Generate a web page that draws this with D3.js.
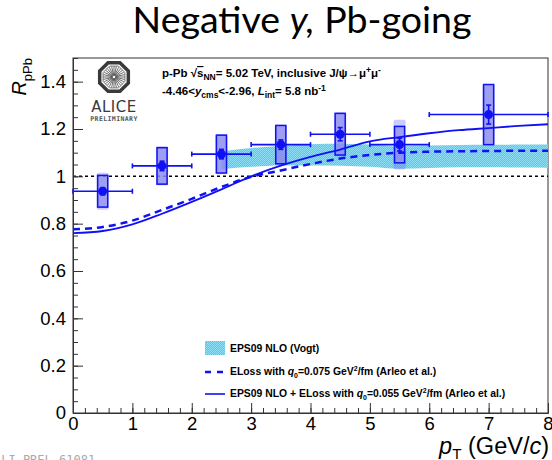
<!DOCTYPE html>
<html><head><meta charset="utf-8">
<script src="https://cdn.jsdelivr.net/npm/d3@7"></script>
<style>body{margin:0;background:#fff} svg{display:block}</style>
</head><body>
<script>
// J/psi R_pPb vs pT, backward rapidity
const ptCenter = [0.5, 1.5, 2.5, 3.5, 4.5, 5.5, 7];
const ptLow    = [0, 1, 2, 3, 4, 5, 6];
const ptHigh   = [1, 2, 3, 4, 5, 6, 8];
const rpPb       = [0.937, 1.044, 1.094, 1.134, 1.178, 1.134, 1.261];
const statErr    = [0.015, 0.02, 0.02, 0.02, 0.028, 0.027, 0.04];
const systUncorr = [0.067, 0.077, 0.08, 0.081, 0.088, 0.077, 0.127];
const systTotal  = [0.078, 0.083, 0.085, 0.084, 0.093, 0.105, 0.128];

// model curves
const modelPt    = [0, 0.5, 1, 1.5, 2, 2.5, 3, 3.5, 4, 4.5, 5, 5.5, 6, 6.5, 7, 7.5, 8];
const elossOnly  = [0.776, 0.786, 0.813, 0.858, 0.905, 0.955, 0.998, 1.025, 1.052, 1.075, 1.09, 1.1, 1.104, 1.106, 1.107, 1.108, 1.108];
const eps09Eloss = [0.760, 0.769, 0.797, 0.842, 0.892, 0.945, 1.0, 1.045, 1.082, 1.113, 1.148, 1.166, 1.182, 1.195, 1.204, 1.213, 1.22];

// EPS09 NLO band
const eps09Pt   = [2.5, 3, 3.5, 4, 4.5, 5, 5.5, 6, 6.5, 7, 7.5, 8];
const eps09Low  = [1.03, 1.04, 1.046, 1.046, 1.045, 1.04, 1.032, 1.035, 1.038, 1.038, 1.037, 1.036];
const eps09High = [1.105, 1.12, 1.128, 1.136, 1.138, 1.135, 1.127, 1.13, 1.132, 1.133, 1.134, 1.135];

const xTicks = [0, 1, 2, 3, 4, 5, 6, 7, 8];
const yTicks = [0, 0.2, 0.4, 0.6, 0.8, 1, 1.2, 1.4];
const yTickLabels = ["0", "0.2", "0.4", "0.6", "0.8", "1", "1.2", "1.4"];

const W = 552, H = 460;
const blue = "#1010f5";
const sans = "'Liberation Sans', Arial, Helvetica, sans-serif";

const svg = d3.select("body").append("svg").attr("width", W).attr("height", H);

const defs = svg.append("defs");
const pat = defs.append("pattern").attr("id", "hatch").attr("patternUnits", "userSpaceOnUse")
  .attr("width", 2).attr("height", 2);
pat.append("rect").attr("width", 2).attr("height", 2).attr("fill", "#4ccbf0");
pat.append("rect").attr("width", 1).attr("height", 1).attr("fill", "#8fe0f7");
pat.append("rect").attr("x", 1).attr("y", 1).attr("width", 1).attr("height", 1).attr("fill", "#8fe0f7");

const x = d3.scaleLinear().domain([0, 8]).range([73, 548]);
const y = d3.scaleLinear().domain([0, 1.5]).range([413, 58]);

// fit a text element to a target width by scaling its font size
function fitWidth(sel, base, target) {
  const len = sel.node().getComputedTextLength();
  sel.attr("font-size", base * target / len);
}

// title
const title = svg.append("text").attr("x", 302).attr("y", 33).attr("text-anchor", "middle")
  .attr("font-family", "Lato, 'Open Sans', sans-serif").attr("font-size", 32).attr("fill", "#000");
title.append("tspan").text("Negative ");
title.append("tspan").attr("font-style", "italic").text("y,");
title.append("tspan").text(" Pb-going");
fitWidth(title, 32, 339);

// frame
svg.append("rect").attr("x", x(0)).attr("y", y(1.5)).attr("width", x(8) - x(0)).attr("height", y(0) - y(1.5))
  .attr("fill", "none").attr("stroke", "#333").attr("stroke-width", 1);

// unity line
svg.append("line").attr("x1", x(0)).attr("x2", x(8)).attr("y1", y(1)).attr("y2", y(1))
  .attr("stroke", "#000").attr("stroke-width", 1.5).attr("stroke-dasharray", "3,3");

// EPS09 band
const bandData = eps09Pt.map((p, i) => ({p, lo: eps09Low[i], hi: eps09High[i]}));
svg.append("path").datum(bandData)
  .attr("d", d3.area().x(d => x(d.p)).y0(d => y(d.lo)).y1(d => y(d.hi)).curve(d3.curveMonotoneX))
  .attr("fill", "url(#hatch)");

// data
const pts = ptCenter.map((p, i) => ({p, lo: ptLow[i], hi: ptHigh[i], v: rpPb[i], st: statErr[i], su: systUncorr[i], sT: systTotal[i]}));
const boxHalf = 0.085;

svg.append("g").selectAll("rect").data(pts).join("rect")
  .attr("x", d => x(d.p - boxHalf) - 1).attr("width", d => x(d.p + boxHalf) - x(d.p - boxHalf) + 2)
  .attr("y", d => y(d.v + d.sT)).attr("height", d => y(d.v - d.sT) - y(d.v + d.sT))
  .attr("rx", 2).attr("fill", "#6b6bf5").attr("fill-opacity", 0.35);

svg.append("g").selectAll("rect").data(pts).join("rect")
  .attr("x", d => x(d.p - boxHalf)).attr("width", d => x(d.p + boxHalf) - x(d.p - boxHalf))
  .attr("y", d => y(d.v + d.su)).attr("height", d => y(d.v - d.su) - y(d.v + d.su))
  .attr("fill", "#8f8ff0").attr("fill-opacity", 0.75).attr("stroke", blue).attr("stroke-width", 1.5);

// model curves
const line = d3.line().x((d, i) => x(modelPt[i])).y(d => y(d)).curve(d3.curveMonotoneX);
svg.append("path").datum(elossOnly).attr("d", line).attr("fill", "none")
  .attr("stroke", blue).attr("stroke-width", 2.5).attr("stroke-dasharray", "7,5");
svg.append("path").datum(eps09Eloss).attr("d", line).attr("fill", "none")
  .attr("stroke", blue).attr("stroke-width", 1.8);

// error bars
const eb = svg.append("g").attr("stroke", blue).attr("stroke-width", 1.6);
eb.selectAll(".h").data(pts).join("line")
  .attr("x1", d => x(d.lo)).attr("x2", d => x(d.hi)).attr("y1", d => y(d.v)).attr("y2", d => y(d.v));
eb.selectAll(".cl").data(pts).join("line")
  .attr("x1", d => x(d.lo)).attr("x2", d => x(d.lo)).attr("y1", d => y(d.v) - 2.5).attr("y2", d => y(d.v) + 2.5);
eb.selectAll(".cr").data(pts).join("line")
  .attr("x1", d => x(d.hi)).attr("x2", d => x(d.hi)).attr("y1", d => y(d.v) - 2.5).attr("y2", d => y(d.v) + 2.5);
eb.selectAll(".v").data(pts).join("line")
  .attr("x1", d => x(d.p)).attr("x2", d => x(d.p)).attr("y1", d => y(d.v + d.st)).attr("y2", d => y(d.v - d.st));
eb.selectAll(".ct").data(pts).join("line")
  .attr("x1", d => x(d.p) - 2.5).attr("x2", d => x(d.p) + 2.5).attr("y1", d => y(d.v + d.st)).attr("y2", d => y(d.v + d.st));
eb.selectAll(".cb").data(pts).join("line")
  .attr("x1", d => x(d.p) - 2.5).attr("x2", d => x(d.p) + 2.5).attr("y1", d => y(d.v - d.st)).attr("y2", d => y(d.v - d.st));
svg.append("g").selectAll("circle").data(pts).join("circle")
  .attr("cx", d => x(d.p)).attr("cy", d => y(d.v)).attr("r", 4.5).attr("fill", blue);

// axes
const xMinor = d3.range(0, 8.001, 0.2).map(v => +v.toFixed(2));
const yMinor = d3.range(0, 1.501, 0.05).map(v => +v.toFixed(2));
const gx = svg.append("g").attr("transform", `translate(0,${y(0)})`)
  .call(d3.axisBottom(x).tickValues(xTicks).tickSizeInner(-10).tickSizeOuter(0).tickPadding(4).tickFormat(d3.format("d")));
const gxm = svg.append("g").attr("transform", `translate(0,${y(0)})`)
  .call(d3.axisBottom(x).tickValues(xMinor).tickSizeInner(-5).tickSizeOuter(0).tickFormat(""));
const gy = svg.append("g").attr("transform", `translate(${x(0)},0)`)
  .call(d3.axisLeft(y).tickValues(yTicks).tickSizeInner(-10).tickSizeOuter(0).tickPadding(7)
    .tickFormat((d, i) => yTickLabels[i]));
const gym = svg.append("g").attr("transform", `translate(${x(0)},0)`)
  .call(d3.axisLeft(y).tickValues(yMinor).tickSizeInner(-5).tickSizeOuter(0).tickFormat(""));
[gx, gxm, gy, gym].forEach(g => {
  g.select(".domain").attr("stroke", "#333");
  g.selectAll(".tick line").attr("stroke", "#333");
  g.selectAll("text").attr("font-family", sans).attr("font-size", 18.5).attr("fill", "#000");
});

// axis titles
const yt = svg.append("text").attr("transform", "translate(26,58) rotate(-90)").attr("text-anchor", "end")
  .attr("font-family", sans).attr("fill", "#000");
yt.append("tspan").attr("font-style", "italic").attr("font-size", 20).text("R");
yt.append("tspan").attr("font-size", 13).attr("dy", 6).text("pPb");

const xt = svg.append("text").attr("x", 549).attr("y", 454).attr("text-anchor", "end")
  .attr("font-family", sans).attr("font-size", 20).attr("fill", "#000");
xt.append("tspan").attr("font-style", "italic").text("p");
xt.append("tspan").attr("font-size", "0.65em").attr("dy", 5).text("T");
xt.append("tspan").attr("dy", -5).text(" (GeV/");
xt.append("tspan").attr("font-style", "italic").text("c");
xt.append("tspan").text(")");
fitWidth(xt, 20, 110);

// ALICE logo
const logo = svg.append("g").attr("transform", "translate(114,77)");
const oct = r => d3.range(8).map(k => {
  const a = Math.PI / 8 + k * Math.PI / 4;
  return [r * Math.cos(a), r * Math.sin(a)];
});
logo.append("path").attr("d", "M" + oct(15.5).join("L") + "Z").attr("fill", "none").attr("stroke", "#3a3a3a").attr("stroke-width", 3.5);
logo.append("path").attr("d", "M" + oct(11.8).join("L") + "Z").attr("fill", "none").attr("stroke", "#666").attr("stroke-width", 0.9);
d3.range(28).forEach(k => {
  const a = k * 2 * Math.PI / 28;
  logo.append("line").attr("x1", 1.5 * Math.cos(a)).attr("y1", 1.5 * Math.sin(a))
    .attr("x2", 10.8 * Math.cos(a)).attr("y2", 10.8 * Math.sin(a)).attr("stroke", "#444").attr("stroke-width", 0.8);
});
svg.append("text").attr("x", 114).attr("y", 112).attr("text-anchor", "middle").attr("font-family", "'DejaVu Sans', sans-serif")
  .attr("font-size", 15).attr("fill", "#3a3a3a").attr("letter-spacing", 0.5).text("ALICE");
svg.append("text").attr("x", 114).attr("y", 120.5).attr("text-anchor", "middle").attr("font-family", "'DejaVu Sans Mono', monospace")
  .attr("font-weight", "bold").attr("font-size", 6.5).attr("fill", "#555").attr("letter-spacing", 0.4).text("PRELIMINARY");

// collision info
const info1 = svg.append("text").attr("x", 162).attr("y", 77).attr("font-family", sans).attr("font-weight", "bold")
  .attr("font-size", 11.5).attr("fill", "#000");
info1.append("tspan").text("p-Pb  \u221A");
info1.append("tspan").attr("text-decoration", "overline").text("s");
info1.append("tspan").attr("font-size", 8.5).attr("dy", 3).text("NN");
info1.append("tspan").attr("dy", -3).text("= 5.02 TeV, inclusive J/\u03C8\u2192\u03BC");
info1.append("tspan").attr("font-size", 8.5).attr("dy", -4).text("+");
info1.append("tspan").attr("dy", 4).text("\u03BC");
info1.append("tspan").attr("font-size", 8.5).attr("dy", -4).text("-");

const info2 = svg.append("text").attr("x", 162).attr("y", 95).attr("font-family", sans).attr("font-weight", "bold")
  .attr("font-size", 11.5).attr("fill", "#000");
info2.append("tspan").text("-4.46<");
info2.append("tspan").attr("font-style", "italic").text("y");
info2.append("tspan").attr("font-size", 8.5).attr("dy", 3).text("cms");
info2.append("tspan").attr("dy", -3).text("<-2.96,  ");
info2.append("tspan").attr("font-style", "italic").text("L");
info2.append("tspan").attr("font-size", 8.5).attr("dy", 3).text("int");
info2.append("tspan").attr("dy", -3).text("= 5.8 nb");
info2.append("tspan").attr("font-size", 8.5).attr("dy", -4).text("-1");

// legend
const lg = svg.append("g").attr("font-family", sans).attr("font-weight", "bold").attr("font-size", 10.4).attr("fill", "#000");
lg.append("rect").attr("x", 205).attr("y", 341).attr("width", 20).attr("height", 14).attr("fill", "url(#hatch)");
lg.append("text").attr("x", 230).attr("y", 352).text("EPS09 NLO (Vogt)");
lg.append("line").attr("x1", 205).attr("x2", 225).attr("y1", 372).attr("y2", 372)
  .attr("stroke", blue).attr("stroke-width", 2.5).attr("stroke-dasharray", "6,6");
const l2 = lg.append("text").attr("x", 230).attr("y", 375);
l2.append("tspan").text("ELoss with  ");
l2.append("tspan").attr("font-style", "italic").text("q");
l2.append("tspan").attr("font-size", 7).attr("dy", 3).text("0");
l2.append("tspan").attr("dy", -3).text("=0.075 GeV");
l2.append("tspan").attr("font-size", 7).attr("dy", -4).text("2");
l2.append("tspan").attr("dy", 4).text("/fm (Arleo et al.)");
lg.append("line").attr("x1", 205).attr("x2", 225).attr("y1", 394).attr("y2", 394)
  .attr("stroke", blue).attr("stroke-width", 1.6);
const l3 = lg.append("text").attr("x", 230).attr("y", 397);
l3.append("tspan").text("EPS09 NLO + ELoss with  ");
l3.append("tspan").attr("font-style", "italic").text("q");
l3.append("tspan").attr("font-size", 7).attr("dy", 3).text("0");
l3.append("tspan").attr("dy", -3).text("=0.055 GeV");
l3.append("tspan").attr("font-size", 7).attr("dy", -4).text("2");
l3.append("tspan").attr("dy", 4).text("/fm (Arleo et al.)");

// figure id
svg.append("text").attr("x", -6).attr("y", 464).attr("font-family", "'DejaVu Sans Mono', monospace")
  .attr("font-size", 12).attr("fill", "#aaa").text("ALI-PREL-61081");
</script>
</body></html>
